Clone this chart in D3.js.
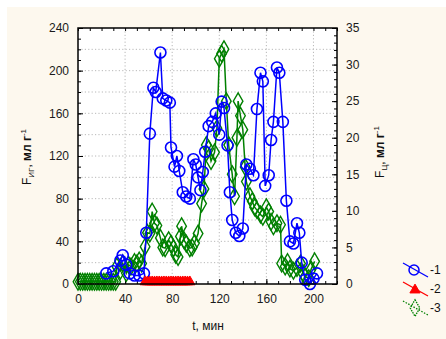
<!DOCTYPE html>
<html>
<head>
<meta charset="utf-8">
<title>F vs t</title>
<script src="https://cdnjs.cloudflare.com/ajax/libs/d3/7.8.5/d3.min.js"></script>
<style>
 body { margin: 0; background: #ffffff; }
 text { font-family: "Liberation Sans", Arial, sans-serif; }
 .tick text { font-size: 12px; fill: #1a1a1a; }
 .grid line { stroke: #b8b8b8; stroke-dasharray: 1.2,2.2; }
 .title { font-size: 12px; fill: #111; }
</style>
</head>
<body>
<svg id="viz" width="446" height="339"></svg>
<script>

// series 1 (blue, left axis)
var t1 = [24,30,36,38,41,44,48,52,56,58,61,64,66,70,72,75,78,79,82,84,86,89,92,95,98,100,102,104,106,108,111,114,117,120,122,124,127,129,131,134,137,140,143,146,149,152,155,157,159,162,164,166,169,171,174,177,180,183,186,188,190,193,197,200,203];
var v1 = [10,12,22,27,18,10,8,8,10,48,141,184,180,217,174,172,170,128,110,120,106,86,82,80,117,112,100,88,105,124,148,152,160,140,171,165,130,86,60,48,45,52,112,108,102,164,198,190,92,102,135,152,203,198,152,78,40,38,57,48,20,4,0,5,10];

// series 2 (red, left axis)
var t2 = [57,59,61,63,65,67,69,71,73,75,77,79,81,83,85,87,89,91,93,95];
var v2 = [2,2,2,2,2,2,2,2,2,2,2,2,2,2,2,2,2,2,2,2];

// series 3 (green, right axis)
var t3 = [0,2,4,6,8,10,12,14,16,18,20,22,24,26,28,30,32,33,36,38,41,43,45,48,50,52,54,57,59,61,63,65,67,70,72,74,77,79,81,83,85,87,88,90,92,95,97,99,102,105,107,109,111,113,116,118,120,122,124,126,128,131,133,135,136,138,140,142,143,146,148,150,152,155,157,160,162,164,166,169,172,173,176,178,180,183,186,189,191,193,196,198,201];
var v3 = [0.3,0.3,0.3,0.3,0.3,0.3,0.3,0.3,0.3,0.3,0.3,0.3,0.3,0.3,0.3,0.3,0.3,2.4,1.8,2.8,1.5,2.6,2.4,3.0,2.8,3.2,2.8,5.1,7.0,6.9,9.9,8.3,8.0,6.3,5.0,4.9,6.0,5.5,4.9,4.0,3.7,6.5,7.9,6.0,5.5,4.9,5.0,5.6,6.9,11.0,13,19.0,18.5,16.8,18,21.3,30.8,31.5,32.1,25,19.0,15,12.0,20,25.0,23,21.1,16,14.0,12,11.3,10.5,10.1,9.5,9.2,10.5,9.9,8.5,7.9,8.3,8.1,2.8,2.4,3.0,2.1,1.8,2.2,2.8,1.5,1.0,0.8,2.0,3.1];

var xTicks = [0,40,80,120,160,200];
var yLeftTicks = [0,40,80,120,160,200,240];
var yRightTicks = [0,5,10,15,20,25,30,35];
var legendLabels = ["-1","-2","-3"];

function draw() {
  var svg = d3.select("#viz");

  // cream panel with white strip at top and left
  svg.append("rect").attr("x",7).attr("y",7).attr("width",439).attr("height",332).attr("fill","#fdf8ee");

  var pLeft = 78, pRight = 337, pTop = 28, pBottom = 284;

  var x = d3.scaleLinear().domain([0,220]).range([pLeft,pRight]);
  var yL = d3.scaleLinear().domain([0,240]).range([pBottom,pTop]);
  var yR = d3.scaleLinear().domain([0,35]).range([pBottom,pTop]);

  svg.append("rect").attr("x",pLeft).attr("y",pTop).attr("width",pRight-pLeft).attr("height",pBottom-pTop).attr("fill","#fff");

  // grid
  svg.append("g").attr("class","grid")
    .selectAll("line").data(d3.range(20,240,20)).enter().append("line")
    .attr("x1",pLeft).attr("x2",pRight).attr("y1",d=>yL(d)).attr("y2",d=>yL(d));
  svg.append("g").attr("class","grid")
    .selectAll("line").data(xTicks.slice(1)).enter().append("line")
    .attr("y1",pTop).attr("y2",pBottom).attr("x1",d=>x(d)).attr("x2",d=>x(d));

  // minor ticks (inward)
  function minor(g){ g.selectAll(".domain").remove(); g.selectAll("line").attr("stroke","#000"); g.selectAll("text").remove(); }
  svg.append("g").attr("transform","translate("+pLeft+",0)")
    .call(d3.axisLeft(yL).tickValues(d3.range(0,241,10)).tickSize(-3)).call(minor);
  svg.append("g").attr("transform","translate("+pRight+",0)")
    .call(d3.axisRight(yR).tickValues(d3.range(0,36,1)).tickSize(-3)).call(minor);
  svg.append("g").attr("transform","translate(0,"+pBottom+")")
    .call(d3.axisBottom(x).tickValues(d3.range(0,221,10)).tickSize(-3)).call(minor);
  svg.append("g").attr("transform","translate(0,"+pTop+")")
    .call(d3.axisTop(x).tickValues(d3.range(0,221,10)).tickSize(-3)).call(minor);

  // major axes
  function major(g){ g.selectAll(".domain").remove(); g.selectAll("line").attr("stroke","#000"); }
  svg.append("g").attr("transform","translate("+pLeft+",0)")
    .call(d3.axisLeft(yL).tickValues(yLeftTicks).tickSize(-5).tickPadding(9)).call(major);
  svg.append("g").attr("transform","translate("+pRight+",0)")
    .call(d3.axisRight(yR).tickValues(yRightTicks).tickSize(-5).tickPadding(9)).call(major);
  svg.append("g").attr("transform","translate(0,"+pBottom+")")
    .call(d3.axisBottom(x).tickValues(xTicks).tickSize(-5).tickPadding(10)).call(major);
  svg.selectAll(".tick text").attr("font-family",null);

  // series
  var blue = "#0000ff", red = "#ff0000", green = "#008000";
  var line1 = d3.line().x((d,i)=>x(t1[i])).y(d=>yL(d));
  var line3 = d3.line().x((d,i)=>x(t3[i])).y(d=>yR(d));
  var line2 = d3.line().x((d,i)=>x(t2[i])).y(d=>yL(d));
  var diamond = d3.symbol().type(d3.symbolDiamond).size(80);
  var tri = d3.symbol().type(d3.symbolTriangle).size(45);

  svg.append("path").attr("d",line3(v3)).attr("fill","none").attr("stroke",green).attr("stroke-width",1.5);
  svg.append("g").selectAll("path").data(v3).enter().append("path")
    .attr("d",diamond).attr("transform",(d,i)=>"translate("+x(t3[i])+","+yR(d)+")")
    .attr("fill","none").attr("stroke",green).attr("stroke-width",1.4);

  svg.append("path").attr("d",line1(v1)).attr("fill","none").attr("stroke",blue).attr("stroke-width",1.5);
  svg.append("g").selectAll("circle").data(v1).enter().append("circle")
    .attr("cx",(d,i)=>x(t1[i])).attr("cy",d=>yL(d)).attr("r",5.5)
    .attr("fill","none").attr("stroke",blue).attr("stroke-width",1.6);

  svg.append("path").attr("d",line2(v2)).attr("fill","none").attr("stroke",red).attr("stroke-width",1.5);
  svg.append("g").selectAll("path").data(v2).enter().append("path")
    .attr("d",tri).attr("transform",(d,i)=>"translate("+x(t2[i])+","+yL(d)+")")
    .attr("fill",red).attr("stroke",red);

  // frame
  svg.append("rect").attr("x",pLeft).attr("y",pTop).attr("width",pRight-pLeft).attr("height",pBottom-pTop)
    .attr("fill","none").attr("stroke","#000").attr("stroke-width",1.5);

  // titles
  svg.append("text").attr("class","title").attr("x",208).attr("y",330).attr("text-anchor","middle").text("t, мин");

  var tl = svg.append("text").attr("class","title").attr("transform","translate(31,157) rotate(-90)").attr("text-anchor","middle");
  tl.append("tspan").text("F");
  tl.append("tspan").attr("dy",3).attr("font-size",8).text("ИГ");
  tl.append("tspan").attr("dy",-3).text(", ");
  tl.append("tspan").attr("font-weight","bold").text("мл г");
  tl.append("tspan").attr("dy",-5).attr("font-size",8).text("-1");

  var tr = svg.append("text").attr("class","title").attr("transform","translate(384,152) rotate(-90)").attr("text-anchor","middle");
  tr.append("tspan").text("F");
  tr.append("tspan").attr("dy",3).attr("font-size",8).text("Ц");
  tr.append("tspan").attr("dy",-3).text(", ");
  tr.append("tspan").attr("font-weight","bold").text("мл г");
  tr.append("tspan").attr("dy",-5).attr("font-size",8).text("-1");

  // legend
  var legColors = [blue, red, green];
  var leg = svg.append("g").selectAll("g").data(legendLabels).enter().append("g")
    .attr("transform",(d,i)=>"translate(0,"+(270+i*19)+")");
  leg.append("line").attr("x1",403).attr("y1",-7).attr("x2",428).attr("y2",7)
    .attr("stroke",(d,i)=>legColors[i]).attr("stroke-width",1.3)
    .attr("stroke-dasharray",(d,i)=>i==2?"1.5,1.5":null);
  leg.each(function(d,i){
    var g = d3.select(this);
    if(i==0) g.append("circle").attr("cx",414).attr("cy",0).attr("r",5).attr("fill","none").attr("stroke",blue).attr("stroke-width",1.5);
    if(i==1) g.append("path").attr("d",tri).attr("transform","translate(415,1)").attr("fill",red).attr("stroke",red);
    if(i==2) g.append("path").attr("d",diamond).attr("transform","translate(415,0)").attr("fill","none").attr("stroke",green).attr("stroke-width",1.3).attr("stroke-dasharray","1.5,1");
  });
  leg.append("text").attr("x",430).attr("y",4).attr("font-size",12).attr("fill","#111").text(d=>d);
}

draw();

</script>
</body>
</html>
